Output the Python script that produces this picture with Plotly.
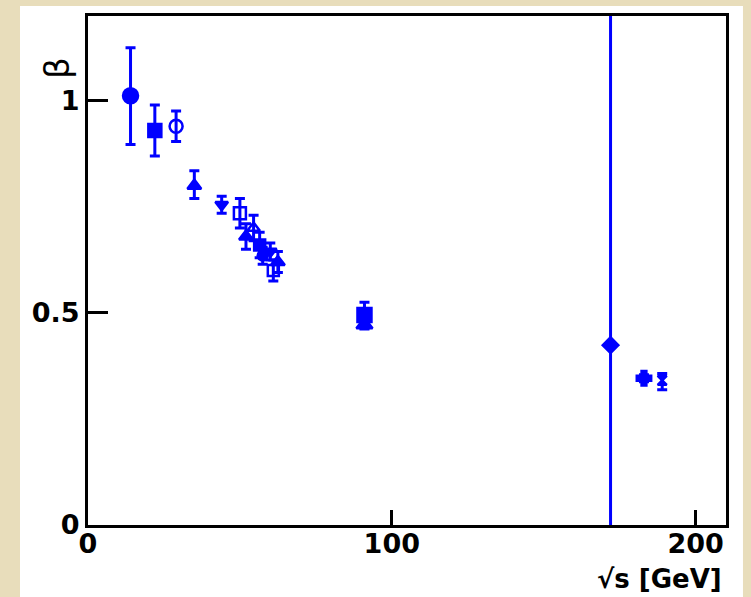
import plotly.graph_objects as go

# ---- data ----
sqrt_s = [14, 22, 29, 35, 44, 50, 52, 54.5, 56.5, 57.5, 60, 61, 62.5, 91, 91, 172, 183, 189]
beta = [1.012, 0.93, 0.94, 0.80, 0.755, 0.735, 0.68, 0.70, 0.66, 0.635, 0.645, 0.60, 0.62, 0.495, 0.472, 0.424, 0.346, 0.341]
err_up = [0.113, 0.06, 0.036, 0.035, 0.02, 0.035, 0.03, 0.03, 0.03, 0.02, 0.02, 0.025, 0.025, 0.03, 0.01, 1.5, 0.008, 0.016]
err_down = [0.115, 0.06, 0.036, 0.03, 0.02, 0.035, 0.03, 0.03, 0.03, 0.02, 0.02, 0.025, 0.025, 0.03, 0.01, 1.5, 0.008, 0.022]

x_ticks = [0, 100, 200]
x_tick_text = ["0", "100", "200"]
y_ticks = [0, 0.5, 1]
y_tick_text = ["0", "0.5", "1"]

# ---- styles ----
symbols = ["circle", "square", "circle-open", "triangle-up", "triangle-down", "square-open",
           "triangle-up", "triangle-up-open", "square", "circle", "triangle-down", "square-open",
           "triangle-up", "square", "triangle-up", "diamond", "cross", "hourglass"]
sizes = [15, 13, 13, 12, 11, 12, 12, 11, 11, 10, 11, 11, 12, 14, 14, 12, 12, 9]

BLUE = "#0000FF"
fig = go.Figure()
for i in range(len(sqrt_s)):
    fig.add_trace(go.Scatter(
        x=[sqrt_s[i]], y=[beta[i]], mode="markers",
        marker=dict(symbol=symbols[i], size=sizes[i], color=BLUE,
                    line=dict(color=BLUE, width=2.5)),
        error_y=dict(type="data", symmetric=False, array=[err_up[i]],
                     arrayminus=[err_down[i]], color=BLUE, thickness=3, width=5),
        showlegend=False, cliponaxis=True,
    ))

fnt = dict(family="DejaVu Sans, sans-serif", size=27, color="black")

def bold(lst):
    return ["<b>%s</b>" % t for t in lst]

fig.update_layout(
    width=751, height=597,
    margin=dict(l=88, r=25, t=16, b=72),
    paper_bgcolor="#E8DDBB",
    plot_bgcolor="white",
    showlegend=False,
    xaxis=dict(range=[0, 210], tickvals=x_ticks, ticktext=bold(x_tick_text), ticks="inside",
               ticklen=15, tickwidth=2.5, tickcolor="black", showline=True, linewidth=3,
               linecolor="black", mirror=True, showgrid=False, zeroline=False, tickfont=fnt,
               ticklabelstandoff=-7),
    yaxis=dict(range=[0, 1.2], tickvals=y_ticks, ticktext=bold(y_tick_text), ticks="inside",
               ticklen=20, tickwidth=2.5, tickcolor="black", showline=True, linewidth=3,
               linecolor="black", mirror=True, showgrid=False, zeroline=False, tickfont=fnt),
    shapes=[dict(type="rect", xref="paper", yref="paper", x0=-0.1066, x1=1.0266,
                 y0=-0.1415, y1=1.0196, fillcolor="white", line=dict(width=0), layer="below")],
    annotations=[
        dict(text="<b>√s [GeV]</b>", xref="paper", yref="paper", x=0.997, y=-0.106,
             xanchor="right", yanchor="middle", showarrow=False,
             font=dict(family="DejaVu Sans, sans-serif", size=26, color="black")),
        dict(text="β", xref="paper", yref="paper", x=-0.0486, y=0.898, xanchor="center",
             yanchor="middle", textangle=-90, showarrow=False,
             font=dict(family="DejaVu Sans, sans-serif", size=34, color="black")),
    ],
)

fig.write_html("out.html")
